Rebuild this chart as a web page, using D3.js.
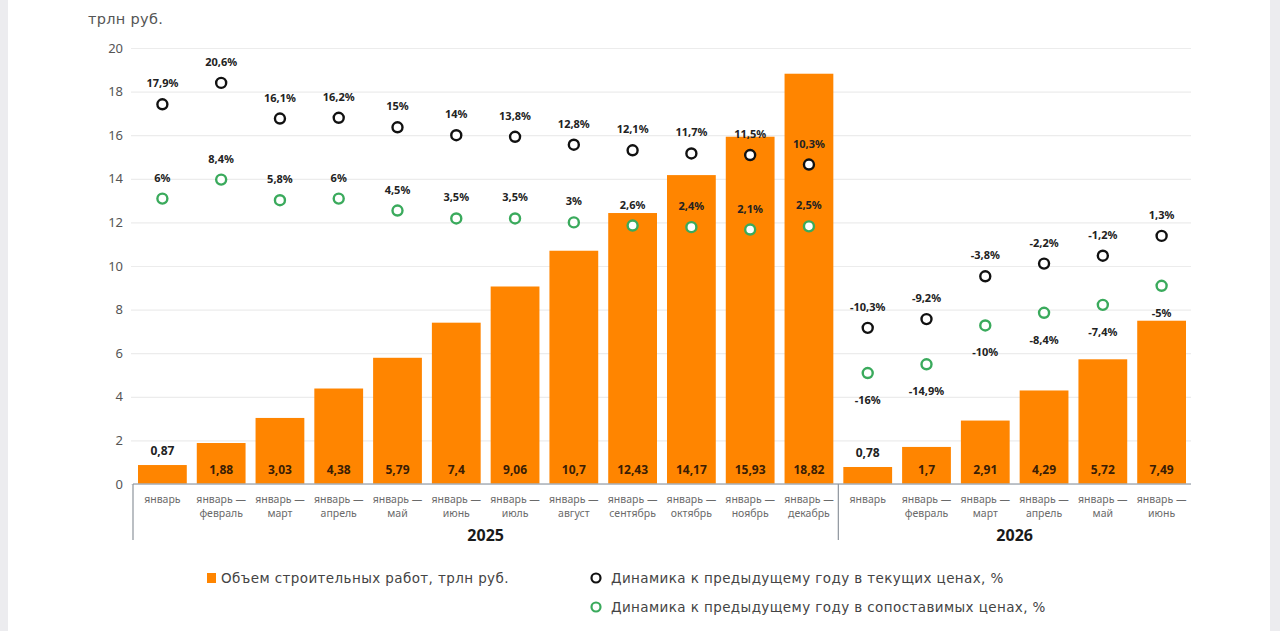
<!DOCTYPE html>
<html><head><meta charset="utf-8">
<script src="https://cdn.jsdelivr.net/npm/d3@7"></script>
<style>
html,body{margin:0;padding:0;background:#fff;}
svg{display:block;font-family:"Noto Sans",sans-serif;}
</style></head>
<body><svg id="c" width="1280" height="631"></svg>
<script>
const years = ["2025","2026"];
const yearOf = ["2025","2025","2025","2025","2025","2025","2025","2025","2025","2025","2025","2025","2026","2026","2026","2026","2026","2026"];
const line1 = ["январь","январь —","январь —","январь —","январь —","январь —","январь —","январь —","январь —","январь —","январь —","январь —","январь","январь —","январь —","январь —","январь —","январь —"];
const line2 = ["","февраль","март","апрель","май","июнь","июль","август","сентябрь","октябрь","ноябрь","декабрь","","февраль","март","апрель","май","июнь"];
const volume = [0.87,1.88,3.03,4.38,5.79,7.4,9.06,10.7,12.43,14.17,15.93,18.82,0.78,1.7,2.91,4.29,5.72,7.49];
const volumeLabels = ["0,87","1,88","3,03","4,38","5,79","7,4","9,06","10,7","12,43","14,17","15,93","18,82","0,78","1,7","2,91","4,29","5,72","7,49"];
const current = [17.9,20.6,16.1,16.2,15,14,13.8,12.8,12.1,11.7,11.5,10.3,-10.3,-9.2,-3.8,-2.2,-1.2,1.3];
const comparable = [6,8.4,5.8,6,4.5,3.5,3.5,3,2.6,2.4,2.1,2.5,-16,-14.9,-10,-8.4,-7.4,-5];
const yTicks = [0,2,4,6,8,10,12,14,16,18,20];
const legendLabels = ["Объем строительных работ, трлн руб.","Динамика к предыдущему году в текущих ценах, %","Динамика к предыдущему году в сопоставимых ценах, %"];

const fmt = v => (String(v).replace(".", ",")) + "%";
const svg = d3.select("#c");
// side strips
svg.append("rect").attr("x",0).attr("y",0).attr("width",8).attr("height",631).attr("fill","#ececef");
svg.append("rect").attr("x",1270).attr("y",0).attr("width",10).attr("height",631).attr("fill","#ececef");

const x0 = 133, x1 = 1191, yTop = 48, yBot = 484;
const idx = d3.range(volume.length);
const x = d3.scaleBand().domain(idx).range([x0,x1]).paddingInner(0.17).paddingOuter(0.085);
const y = d3.scaleLinear().domain([0,20]).range([yBot,yTop]);
const y2 = d3.scaleLinear().domain([-30,25]).range([yBot,yTop]);
const step = x.step();

// unit
svg.append("text").attr("x",88).attr("y",24).attr("font-size",14.5).attr("font-family","DejaVu Sans")
  .attr("letter-spacing",0.3).attr("fill","#555").text("трлн руб.");

// grid
const ga = svg.append("g").attr("transform",`translate(${x0},0)`)
  .call(d3.axisLeft(y).tickValues(yTicks).tickSize(-(x1-x0)).tickPadding(10).tickFormat(d3.format("d")));
ga.select(".domain").remove();
ga.selectAll(".tick line").attr("stroke","#ececec").attr("stroke-width",1.2).attr("x1",-2);
ga.selectAll(".tick text").attr("font-size",13).attr("fill","#555").attr("font-family","Noto Sans");

// bars
svg.append("g").selectAll("rect").data(idx).join("rect")
  .attr("x",i=>x(i)).attr("width",x.bandwidth())
  .attr("y",i=>y(volume[i])).attr("height",i=>yBot-y(volume[i]))
  .attr("fill","#ff8500");

// bar labels
svg.append("g").selectAll("text").data(idx).join("text")
  .attr("x",i=>x(i)+x.bandwidth()/2)
  .attr("y",i=> volume[i] < 1.2 ? y(volume[i]) - 10 : 474)
  .attr("text-anchor","middle").attr("font-size",12).attr("font-weight","bold")
  .attr("fill",i=> volume[i] < 1.2 ? "#222" : "#3a1d05")
  .text(i=>volumeLabels[i]);

// x axis line
svg.append("line").attr("x1",x0).attr("x2",x1).attr("y1",yBot).attr("y2",yBot).attr("stroke","#aab0b8").attr("stroke-width",1.5);
// separators
const sepX = [x0, x(12) - step*0.085];
svg.append("g").selectAll("line").data(sepX).join("line")
  .attr("x1",d=>d).attr("x2",d=>d).attr("y1",yBot).attr("y2",540)
  .attr("stroke","#8d949c").attr("stroke-width",1.2);

// category labels
const cl = svg.append("g").selectAll("text").data(idx).join("text")
  .attr("x",i=>x(i)+x.bandwidth()/2).attr("y",503)
  .attr("text-anchor","middle").attr("font-size",10.5).attr("fill","#6a6a6a");
cl.append("tspan").attr("x",i=>x(i)+x.bandwidth()/2).attr("dy",0).text(i=>line1[i]);
cl.append("tspan").attr("x",i=>x(i)+x.bandwidth()/2).attr("dy",14).text(i=>line2[i]);

// year labels
years.forEach(yr=>{
  const a = yr===years[0] ? x0 : sepX[1];
  const b = yr===years[0] ? sepX[1] : x1;
  svg.append("text").attr("x",(a+b)/2).attr("y",541).attr("text-anchor","middle")
    .attr("font-size",16).attr("font-weight","bold").attr("fill","#1a1a1a").text(yr);
});

// dots
function dots(vals, color, below){
  const g = svg.append("g");
  g.selectAll("circle").data(idx).join("circle")
    .attr("cx",i=>x(i)+x.bandwidth()/2).attr("cy",i=>y2(vals[i])).attr("r",5)
    .attr("fill","#fff").attr("stroke",color).attr("stroke-width",2.4);
  g.selectAll("text").data(idx).join("text")
    .attr("x",i=>x(i)+x.bandwidth()/2)
    .attr("y",i=> below(i) ? y2(vals[i]) + 31 : y2(vals[i]) - 17)
    .attr("text-anchor","middle").attr("font-size",11).attr("font-weight","bold").attr("fill","#222")
    .text(i=>fmt(vals[i]));
}
dots(current,"#111",()=>false);
dots(comparable,"#3aaa5c",i=>yearOf[i]==="2026");

// legend
const lg = svg.append("g").attr("font-family","DejaVu Sans").attr("font-size",13.5).attr("letter-spacing",0.4);
lg.append("rect").attr("x",207).attr("y",573).attr("width",9).attr("height",10).attr("fill","#ff8500");
lg.append("text").attr("x",221).attr("y",583).attr("fill","#444").text(legendLabels[0]);
lg.append("circle").attr("cx",596).attr("cy",578).attr("r",4.5).attr("fill","#fff").attr("stroke","#111").attr("stroke-width",2.2);
lg.append("text").attr("x",611).attr("y",583).attr("fill","#444").text(legendLabels[1]);
lg.append("circle").attr("cx",596).attr("cy",607).attr("r",4.5).attr("fill","#fff").attr("stroke","#3aaa5c").attr("stroke-width",2.2);
lg.append("text").attr("x",611).attr("y",612).attr("fill","#444").text(legendLabels[2]);
</script></body></html>
